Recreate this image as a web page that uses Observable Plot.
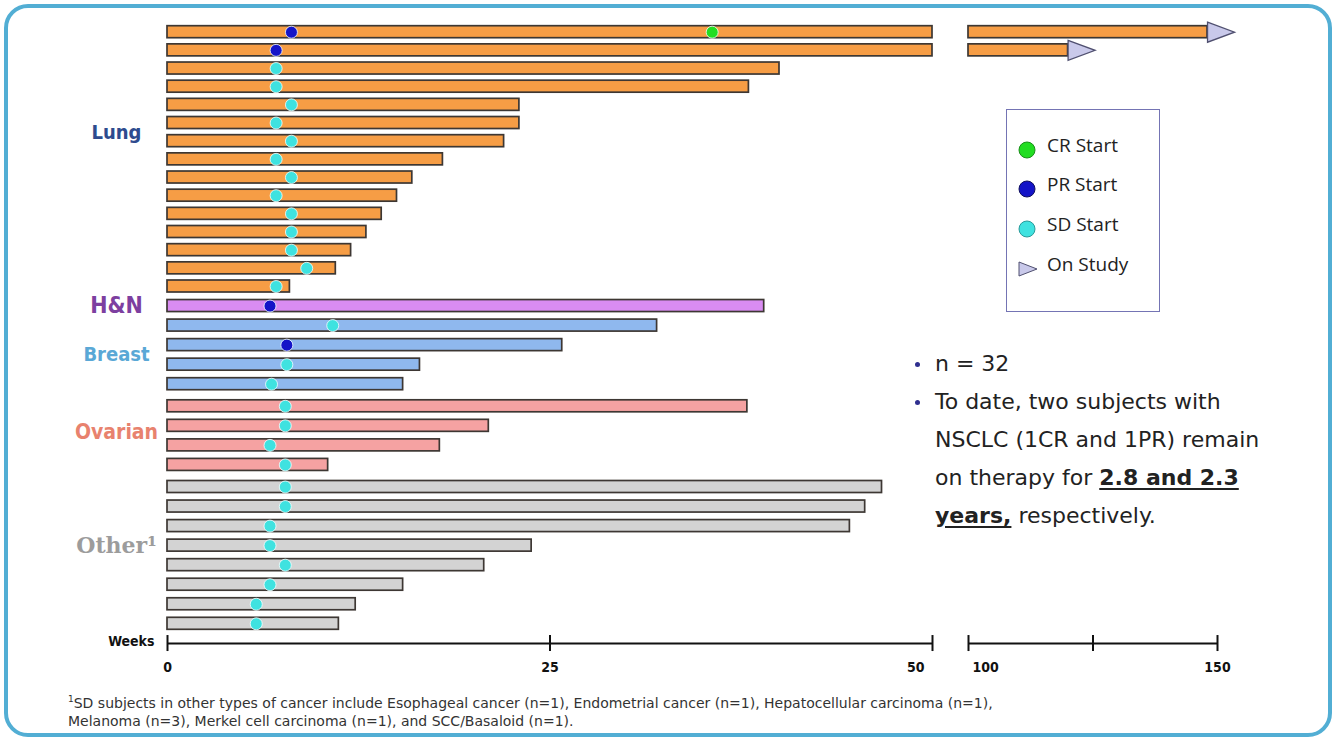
<!DOCTYPE html>
<html>
<head>
<meta charset="utf-8">
<script src="https://cdn.jsdelivr.net/npm/d3@7"></script>
<script src="https://cdn.jsdelivr.net/npm/@observablehq/plot@0.6"></script>
<style>
  body { margin: 0; background: #fff; }
  #page { position: relative; width: 1336px; height: 740px; overflow: hidden; background: #fff;
          font-family: "DejaVu Sans", sans-serif; color: #222; }
  #frame { position: absolute; left: 4px; top: 4px; width: 1328px; height: 733px; box-sizing: border-box;
           border: 4px solid #52aed4; border-radius: 24px; pointer-events: none; }
  #chart { position: absolute; left: 0; top: 0; }
  #legend { position: absolute; left: 1006px; top: 109px; width: 154px; height: 203px; box-sizing: border-box;
            border: 1.5px solid #7474b4; }
  .lg-item { position: absolute; left: 0; height: 24px; display: flex; align-items: center;
             font-family: "Open Sans", sans-serif; font-size: 19px; color: #222; }
  .lg-item svg { width: 40px; height: 24px; }
  .lg-item span { position: relative; top: -5px; }
  #notes { position: absolute; left: 910px; top: 345px; font-size: 22px; line-height: 38px; color: #222; }
  .note { position: relative; padding-left: 25px; }
  .note::before { content: ""; position: absolute; left: 5px; top: 17px; width: 5px; height: 5px;
                  border-radius: 50%; background: #2f2f8f; }
  .note b { text-decoration: underline; text-decoration-thickness: 2px; text-underline-offset: 3px; }
  #footnote { position: absolute; left: 68px; top: 690px; font-size: 14px; line-height: 18px; color: #333; }
</style>
</head>
<body>
<div id="page">
  <div id="chart"></div>
  <div id="legend"></div>
  <div id="notes">
    <div class="note">n = 32</div>
    <div class="note">To date, two subjects with<br>NSCLC (1CR and 1PR) remain<br>on therapy for <b>2.8 and 2.3</b><br><b>years,</b> respectively.</div>
  </div>
  <div id="footnote"><sup style="font-size:9px">1</sup>SD subjects in other types of cancer include Esophageal cancer (n=1), Endometrial cancer (n=1), Hepatocellular carcinoma (n=1),<br>Melanoma (n=3), Merkel cell carcinoma (n=1), and SCC/Basaloid (n=1).</div>
  <div id="frame"></div>
</div>
<script>
// Tumour types, in the order they are stacked, and the number of subjects in each
const groups = ["Lung", "H&N", "Breast", "Ovarian", "Other¹"];
const groupSizes = [15, 1, 4, 4, 8];

// Weeks on study for each of the 32 subjects, top to bottom
const weeksOnStudy = [
  148, 120, 40, 38, 23, 23, 22, 18, 16, 15, 14, 13, 12, 11, 8,   // Lung
  39,                                                           // H&N
  32, 25.8, 16.5, 15.4,                                         // Breast
  37.9, 21, 17.8, 10.5,                                         // Ovarian
  46.7, 45.6, 44.6, 23.8, 20.7, 15.4, 12.3, 11.2                // Other
];
// Subjects still on study at data cut-off
const onStudy = [0, 1];

// First response for each subject and the week it started
const firstResponse = [
  "PR", "PR", "SD", "SD", "SD", "SD", "SD", "SD", "SD", "SD", "SD", "SD", "SD", "SD", "SD",
  "PR",
  "SD", "PR", "SD", "SD",
  "SD", "SD", "SD", "SD",
  "SD", "SD", "SD", "SD", "SD", "SD", "SD", "SD"
];
const firstResponseWeek = [
  8.1, 7.1, 7.1, 7.1, 8.1, 7.1, 8.1, 7.1, 8.1, 7.1, 8.1, 8.1, 8.1, 9.1, 7.1,
  6.7,
  10.8, 7.8, 7.8, 6.8,
  7.7, 7.7, 6.7, 7.7,
  7.7, 7.7, 6.7, 6.7, 7.7, 6.7, 5.8, 5.8
];
// Later complete response
const crSubjects = [0];
const crWeeks = [35.6];

const responseTypes = ["CR", "PR", "SD"];
const responseLabels = ["CR Start", "PR Start", "SD Start", "On Study"];
const xTicks = [0, 25, 50, 100, 125, 150];
const xTickLabels = ["0", "25", "50", "100", "", "150"];

// ---- styling ----
const groupFill = ["#f69d45", "#d98cf2", "#8fb8ee", "#f5a2a2", "#d3d3d3"];
const groupInk = ["#2e4b8e", "#7d3fa0", "#5aa8d6", "#e8826e", "#9c9c9c"];
const groupFontSize = [20, 23, 20, 21, 22];
const responseFill = {CR: "#22dd22", PR: "#1414c8", SD: "#3fe2e0"};
const responseStroke = {CR: "#1a8f1a", PR: "#10105e", SD: "#2a9a9a"};
const arrowFill = "#c9c9ea", arrowStroke = "#505070";

// broken time axis: 50 → 100 weeks are skipped
const breakFrom = 50, breakTo = 100;
// extra row spacing before some groups, and label nudges (in rows)
const gapBefore = [0, 0, 0, 0.13, 0.13];
const labelShift = [-1.5, 0, 0, -0.15, -0.5];

// ---- rows ----
const rows = [];
let slot = 0, idx = 0;
const groupSlots = [];
groups.forEach((g, gi) => {
  slot += gapBefore[gi];
  const first = slot;
  for (let k = 0; k < groupSizes[gi]; k++, idx++, slot++) {
    rows.push({i: idx, gi, slot, weeks: weeksOnStudy[idx], resp: firstResponse[idx], respWeek: firstResponseWeek[idx]});
  }
  groupSlots.push({g, gi, mid: (first + slot - 1) / 2 + labelShift[gi]});
});
const lastSlot = rows[rows.length - 1].slot;
const axisSlot = lastSlot + 1.01;

const segments = rows.flatMap(r => r.weeks > breakFrom
  ? [{...r, x1: 0, x2: breakFrom}, {...r, x1: breakTo, x2: r.weeks}]
  : [{...r, x1: 0, x2: r.weeks}]);

const events = [
  ...rows.map(r => ({slot: r.slot, week: r.respWeek, type: r.resp})),
  ...crSubjects.map((s, k) => ({slot: rows[s].slot, week: crWeeks[k], type: "CR"}))
];

// right-pointing arrowhead whose base sits on the anchor point
const arrowHead = {
  draw(ctx, size) {
    const r = Math.sqrt(size / Math.PI);
    ctx.moveTo(0, -r);
    ctx.lineTo(2.7 * r, 0);
    ctx.lineTo(0, r);
    ctx.closePath();
  }
};

const labelFont = {fontFamily: "DejaVu Sans Condensed, DejaVu Sans, sans-serif", fontWeight: "bold"};

const chart = Plot.plot({
  width: 1336,
  height: 688,
  marginLeft: 167, marginRight: 116, marginTop: 0, marginBottom: 0,
  x: {type: "linear", domain: [0, breakFrom, breakTo, 150], range: [167, 932, 968, 1217], axis: null},
  y: {type: "linear", domain: [0, 14, lastSlot], range: [31.7, 286, 623.3], axis: null},
  style: {fontFamily: "DejaVu Sans Condensed, DejaVu Sans, sans-serif", overflow: "visible", background: "transparent"},
  marks: [
    // bars, one mark per tumour type
    ...groups.map((g, gi) => Plot.rect(segments.filter(s => s.gi === gi), {
      x1: "x1", x2: "x2", y1: "slot", y2: "slot", insetTop: -6, insetBottom: -6,
      fill: groupFill[gi], stroke: "#3d3733", strokeWidth: 1.7
    })),
    // still on study
    Plot.dot(rows.filter(r => onStudy.includes(r.i)), {
      x: "weeks", y: "slot", symbol: arrowHead, r: 10,
      fill: arrowFill, stroke: arrowStroke, strokeWidth: 1.3
    }),
    // response starts
    ...responseTypes.map(t => Plot.dot(events.filter(e => e.type === t), {
      x: "week", y: "slot", r: 6, fill: responseFill[t], stroke: "#f4ffff", strokeWidth: 0.8
    })),
    // group labels
    ...groupSlots.map(s => Plot.text([s.g], {
      frameAnchor: "left", y: () => s.mid, dx: -51, textAnchor: "middle",
      fill: groupInk[s.gi], fontSize: groupFontSize[s.gi],
      ...(s.gi === 4 ? {fontFamily: "DejaVu Serif, serif", fontWeight: "bold"} : labelFont)
    })),
    // broken x axis
    Plot.ruleY([{x1: 0, x2: breakFrom}, {x1: breakTo, x2: 150}], {
      x1: "x1", x2: "x2", y: () => axisSlot, stroke: "#111", strokeWidth: 2
    }),
    Plot.ruleX(xTicks, {x: d => d, y1: () => axisSlot, y2: () => axisSlot, insetTop: -8, insetBottom: -8, stroke: "#111", strokeWidth: 2}),
    Plot.text(xTicks.map((t, k) => ({t, label: xTickLabels[k]})).filter(d => d.t !== breakFrom && d.t !== breakTo), {
      x: "t", y: () => axisSlot, dy: 24, text: "label", textAnchor: "middle", fontSize: 14, fill: "#111", ...labelFont
    }),
    Plot.text([{t: breakFrom, label: xTickLabels[2]}], {
      x: "t", y: () => axisSlot, dy: 24, dx: -8, text: "label", textAnchor: "end", fontSize: 14, fill: "#111", ...labelFont
    }),
    Plot.text([{t: breakTo, label: xTickLabels[3]}], {
      x: "t", y: () => axisSlot, dy: 24, dx: 4, text: "label", textAnchor: "start", fontSize: 14, fill: "#111", ...labelFont
    }),
    Plot.text(["Weeks"], {
      frameAnchor: "left", y: () => axisSlot, dx: -13, dy: -2, textAnchor: "end", fontSize: 14, fill: "#111", ...labelFont
    })
  ]
});
document.getElementById("chart").appendChild(chart);

// legend
const legend = document.getElementById("legend");
const swatches = [
  `<circle cx="20" cy="12" r="8" fill="${responseFill.CR}" stroke="${responseStroke.CR}" stroke-width="1"/>`,
  `<circle cx="20" cy="12" r="8" fill="${responseFill.PR}" stroke="${responseStroke.PR}" stroke-width="1"/>`,
  `<circle cx="20" cy="12" r="8" fill="${responseFill.SD}" stroke="${responseStroke.SD}" stroke-width="1"/>`,
  `<path d="M12,5 L30,12 L12,19 Z" fill="${arrowFill}" stroke="${arrowStroke}" stroke-width="1"/>`
];
const itemTops = [28, 67, 107, 147];
responseLabels.forEach((label, k) => {
  const item = document.createElement("div");
  item.className = "lg-item";
  item.style.top = itemTops[k] + "px";
  item.innerHTML = `<svg viewBox="0 0 40 24">${swatches[k]}</svg><span>${label}</span>`;
  legend.appendChild(item);
});
</script>
</body>
</html>
